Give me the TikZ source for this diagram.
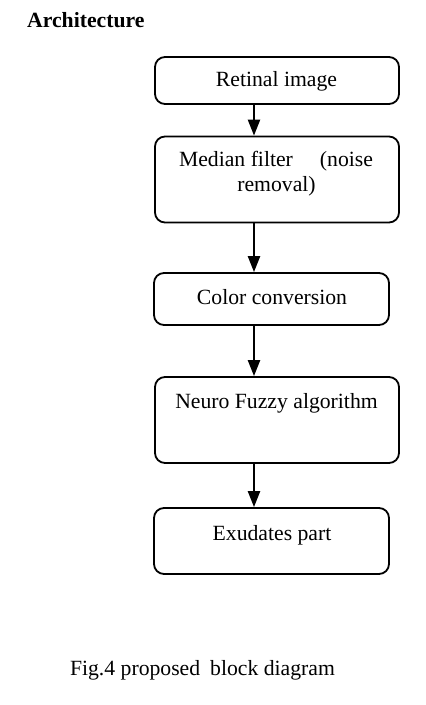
\documentclass[tikz,border=0pt]{standalone}
\usepackage{fontspec}
\setmainfont{Liberation Serif}
\usetikzlibrary{arrows.meta}
\tikzset{
  blockbox/.style={draw=black, line width=1.8pt, rounded corners=10pt, minimum width=244pt, inner sep=0pt},
  blocktext/.style={font=\fontsize{21.7}{25}\selectfont, inner sep=0pt, align=center},
  flow/.style={line width=2.4pt, -{Triangle[length=16pt,width=12pt]}}
}
\begin{document}
\begin{tikzpicture}[x=1pt,y=-1pt]
\useasboundingbox[fill=white] (0,0) rectangle (426,705);
\node[blocktext, font=\fontsize{21.7}{25}\selectfont\bfseries, anchor=west] (title) at (27,20) {Architecture};
\node[blockbox, minimum width=244pt, minimum height=47pt] (b1) at (277,80.5) {};
\node[blockbox, minimum width=244pt, minimum height=86pt] (b2) at (277,179.5) {};
\node[blockbox, minimum width=235pt, minimum height=52pt] (b3) at (271.5,299) {};
\node[blockbox, minimum width=244pt, minimum height=86pt] (b4) at (277,420) {};
\node[blockbox, minimum width=235pt, minimum height=66pt] (b5) at (271.5,541) {};
\node[blocktext] (t1) at (276.5,81) {Retinal image};
\node[blocktext] (t2a) at (276,161) {Median filter\hspace{27pt}(noise};
\node[blocktext] (t2b) at (276.5,186) {removal)};
\node[blocktext] (t3) at (272,297) {Color conversion};
\node[blocktext] (t4) at (276.5,403) {Neuro Fuzzy algorithm};
\node[blocktext] (t5) at (272,535) {Exudates part};
\node[blocktext] (cap) at (202.5,670) {Fig.4 proposed\hspace{10pt}block diagram};
\draw[flow] (b1.south -| 254,0) -- (b2.north -| 254,0);
\draw[flow] (b2.south -| 254,0) -- (b3.north -| 254,0);
\draw[flow] (b3.south -| 254,0) -- (b4.north -| 254,0);
\draw[flow] (b4.south -| 254,0) -- (b5.north -| 254,0);
\end{tikzpicture}
\end{document}
